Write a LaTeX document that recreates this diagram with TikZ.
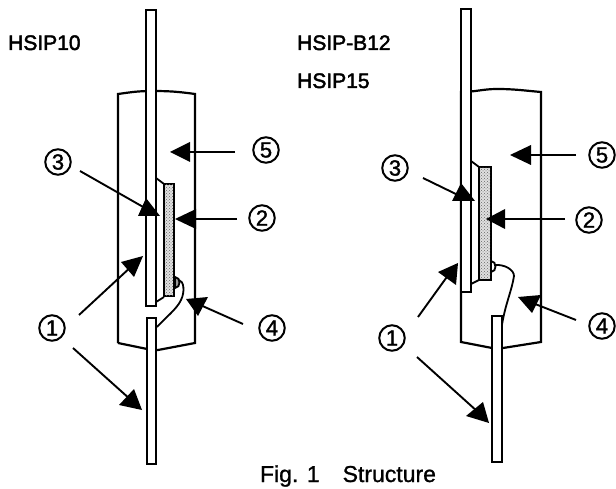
\documentclass[tikz,border=0pt]{standalone}
\usepackage{fontspec}
\setmainfont{Liberation Sans}
\newfontfamily\lblfont[FakeBold=2.2]{Liberation Sans}
\newfontfamily\numfont[FakeBold=1.5]{Liberation Sans}
\newfontfamily\capfont[FakeBold=1]{Liberation Sans}
\usetikzlibrary{patterns}
\tikzset{
  x=1pt,y=-1pt,
  line/.style={draw=black,line width=2.2pt,line join=miter},
  thinline/.style={draw=black,line width=1.8pt},
  leadbox/.style={line,fill=white},
  chip/.style={draw=black,line width=2pt,fill=black!12},
  numc/.style={circle,draw=black,line width=2pt,minimum size=25.5pt,inner sep=0pt,font=\fontsize{22}{22}\numfont},
  conn/.style={draw=black,line width=1.9pt},
  headf/.style={fill=black},
  lab/.style={anchor=base west,inner sep=0pt,font=\fontsize{21}{22}\lblfont}
}
\begin{document}
\begin{tikzpicture}
\useasboundingbox (0,0) rectangle (616,489);
% left package
\draw[line] (118,343) -- (118,94) to[out=8,in=180] (152,91) to[out=0,in=172] (195,94) -- (195,343) -- (158,350) -- (152,350) -- (118,343);
\draw[leadbox] (146,306) -- (146,10) -- (156,10) -- (156,306) -- cycle;
\fill[white] (148,320) rectangle (155,348);
\draw[leadbox] (147,318) rectangle (156,464);
\draw[thinline] (156,178) -- (164,184);
\draw[thinline] (156,302) -- (164,297);
\draw[chip] (164,184) rectangle (174,296);
\fill[pattern=crosshatch dots,pattern color=black!60] (165,185) rectangle (173,295);
\draw[thinline,fill=black!40] (175,277) .. controls (181,277) and (181,288) .. (175,288) -- cycle;
\draw[thinline] (179,280) .. controls (184,281) and (185,292) .. (181,300) .. controls (177,309) and (165,318) .. (157,327);
% right package
\draw[line] (461,292) -- (461,92) to[out=0,in=180] (497,89) to[out=0,in=175] (541,92) -- (541,342) -- (503,348) -- (492,348) -- (461,342) -- (461,292);
\draw[leadbox] (461,292) -- (461,9) -- (471,9) -- (471,292) -- cycle;
\fill[white] (494,318) rectangle (501,346);
\draw[leadbox] (492,316) rectangle (502,462);
\draw[thinline] (471,161) -- (479,167);
\draw[thinline] (471,284) -- (479,280);
\draw[chip] (479,167) rectangle (491,280);
\fill[pattern=crosshatch dots,pattern color=black!60] (480,168) rectangle (490,279);
\draw[thinline,fill=white] (491,261) .. controls (497,261) and (497,272) .. (491,272) -- cycle;
\draw[thinline] (494,265) .. controls (505,264) and (514,270) .. (514,276) .. controls (512,290) and (505,305) .. (502,325);
% labels
\node[lab] (hl) at (8,50) {HSIP10};
\node[lab] (hb) at (297,50) {HSIP-B12};
\node[lab] (hc) at (297,88) {HSIP15};
\node[inner sep=0pt,anchor=base,font=\fontsize{23}{24}\capfont] (cap) at (348,482) {Fig. 1\hspace{1em}Structure};
% numbers left
\node[numc] (l3) at (58,162) {3};
\node[numc] (l5) at (266,150) {5};
\node[numc] (l2) at (262,218) {2};
\node[numc] (l1) at (52,328) {1};
\node[numc] (l4) at (272,328) {4};
% numbers right
\node[numc] (r3) at (395,168) {3};
\node[numc] (r5) at (602,155) {5};
\node[numc] (r2) at (589,220) {2};
\node[numc] (r1) at (392,338) {1};
\node[numc] (r4) at (602,326) {4};
% connector ends
\coordinate (ls3) at (80,171); \coordinate (lt3) at (152,212);
\coordinate (ls5) at (235,152); \coordinate (lt5) at (175,152);
\coordinate (ls2) at (237,219); \coordinate (lt2) at (180,219);
\coordinate (ls1a) at (79,315); \coordinate (lt1a) at (133,265);
\coordinate (ls1b) at (73,348); \coordinate (lt1b) at (131,400);
\coordinate (ls4) at (243,324); \coordinate (lt4) at (198,304);
\coordinate (rs3) at (423,178); \coordinate (rt3) at (462,197);
\coordinate (rs5) at (576,155); \coordinate (rt5) at (515,155);
\coordinate (rs2) at (565,219); \coordinate (rt2) at (492,219);
\coordinate (rs1a) at (418,317); \coordinate (rt1a) at (449,274);
\coordinate (rs1b) at (417,357); \coordinate (rt1b) at (478,412);
\coordinate (rs4) at (576,320); \coordinate (rt4) at (530,302);
\draw[conn] (ls3) -- (lt3);
\draw[conn] (ls5) -- (lt5);
\draw[conn] (ls2) -- (lt2);
\draw[conn] (ls1a) -- (lt1a);
\draw[conn] (ls1b) -- (lt1b);
\draw[conn] (ls4) -- (lt4);
\draw[conn] (rs3) -- (rt3);
\draw[conn] (rs5) -- (rt5);
\draw[conn] (rs2) -- (rt2);
\draw[conn] (rs1a) -- (rt1a);
\draw[conn] (rs1b) -- (rt1b);
\draw[conn] (rs4) -- (rt4);
% heads
\fill[headf] (146,198) -- (138,216) -- (160,216) -- cycle;
\fill[headf] (170,152) -- (190,142) -- (190,162) -- cycle;
\fill[headf] (175,219) -- (196,209) -- (196,229) -- cycle;
\fill[headf] (143,256) -- (121,262) -- (134,277) -- cycle;
\fill[headf] (142,410) -- (119,405) -- (134,389) -- cycle;
\fill[headf] (186,299) -- (208,297) -- (198,316) -- cycle;
\fill[headf] (461,183) -- (452,201) -- (475,201) -- cycle;
\fill[headf] (510,155) -- (531,145) -- (531,165) -- cycle;
\fill[headf] (486,219) -- (505,209) -- (505,229) -- cycle;
\fill[headf] (458,263) -- (438,272) -- (456,285) -- cycle;
\fill[headf] (489,423) -- (466,416) -- (483,402) -- cycle;
\fill[headf] (518,297) -- (541,295) -- (532,313) -- cycle;
\end{tikzpicture}
\end{document}
